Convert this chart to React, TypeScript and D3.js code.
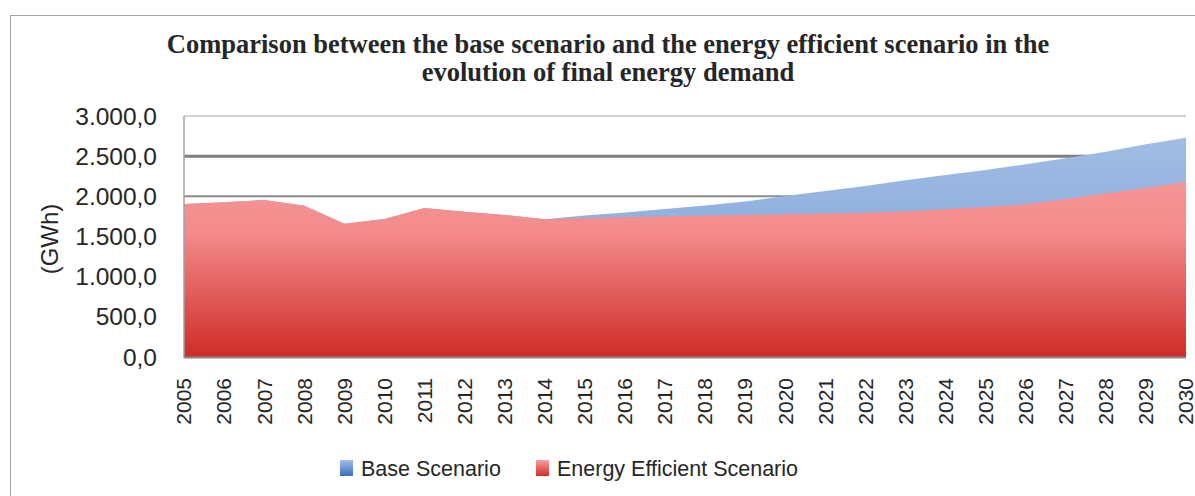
import React from "react";
import * as d3 from "d3";

const years: string[] = [
  "2005","2006","2007","2008","2009","2010","2011","2012","2013","2014",
  "2015","2016","2017","2018","2019","2020","2021","2022","2023","2024",
  "2025","2026","2027","2028","2029","2030",
];
const baseScenario: number[] = [
  1905, 1926, 1954, 1885, 1659, 1718, 1855, 1809, 1768, 1716,
  1761, 1799, 1842, 1886, 1936, 2004, 2066, 2129, 2200, 2266,
  2328, 2399, 2473, 2556, 2648, 2730,
];
const efficientScenario: number[] = [
  1905, 1926, 1954, 1883, 1659, 1718, 1855, 1809, 1768, 1714,
  1730, 1743, 1751, 1761, 1768, 1776, 1786, 1796, 1811, 1842,
  1867, 1901, 1967, 2038, 2108, 2182,
];
const yTicks: number[] = [0, 500, 1000, 1500, 2000, 2500, 3000];
const titleLines: string[] = [
  "Comparison between the base scenario and the energy efficient scenario in the",
  "evolution of final energy demand",
];
const yAxisTitle = "(GWh)";
const seriesNames: string[] = ["Base Scenario", "Energy Efficient Scenario"];

const W = 1195;
const H = 496;
const plot = { left: 184, right: 1186, top: 116, bottom: 357 };

const locale = d3.formatLocale({
  decimal: ",",
  thousands: ".",
  grouping: [3],
  currency: ["", ""],
});
const fmt = locale.format(",.1f");

export default function App() {
  const x = d3.scalePoint<string>().domain(years).range([plot.left, plot.right]);
  const y = d3.scaleLinear().domain([0, 3000]).range([plot.bottom, plot.top]);

  const area = (vals: number[]) =>
    d3
      .area<number>()
      .x((_, i) => x(years[i]) as number)
      .y0(y(0))
      .y1((d) => y(d))
      .curve(d3.curveLinear)(vals) || "";

  const sans = "'Liberation Sans', Arial, sans-serif";

  return (
    <svg
      width={W}
      height={H}
      style={{ position: "absolute", left: 0, top: 0, background: "#fff" }}
    >
      <defs>
        <linearGradient id="gBlue" x1="0" y1="0" x2="0" y2="1">
          <stop offset="0" stopColor="#A1BDE4" />
          <stop offset="0.45" stopColor="#8DAEDD" />
          <stop offset="1" stopColor="#3C71BD" />
        </linearGradient>
        <linearGradient id="gRed" x1="0" y1="0" x2="0" y2="1">
          <stop offset="0" stopColor="#F59696" />
          <stop offset="0.3" stopColor="#F38A8A" />
          <stop offset="1" stopColor="#CE2C27" />
        </linearGradient>
        <linearGradient id="gBlueLeg" x1="0" y1="0" x2="0" y2="1">
          <stop offset="0" stopColor="#A2BEE5" />
          <stop offset="1" stopColor="#3A6FBB" />
        </linearGradient>
        <linearGradient id="gRedLeg" x1="0" y1="0" x2="0" y2="1">
          <stop offset="0" stopColor="#F7A0A0" />
          <stop offset="1" stopColor="#CF2E29" />
        </linearGradient>
      </defs>

      {/* outer chart border */}
      <rect x={10.5} y={15.5} width={1300} height={600} fill="#fff" stroke="#A6A6A6" strokeWidth={1} />

      {/* title */}
      {titleLines.map((t, i) => (
        <text
          key={i}
          x={608}
          y={53 + i * 28}
          textAnchor="middle"
          fontFamily="'Liberation Serif', 'Times New Roman', serif"
          fontWeight="bold"
          fontSize={26.5}
          fill="#262626"
        >
          {t}
        </text>
      ))}

      {/* gridlines */}
      {yTicks.map((t) => {
        const stroke = t === 2500 ? "#7F7F7F" : t === 3000 ? "#A6A6A6" : "#8C8C8C";
        const sw = t === 2500 ? 3 : t === 3000 ? 1 : 2;
        return (
          <line
            key={t}
            x1={plot.left}
            x2={plot.right}
            y1={y(t)}
            y2={y(t)}
            stroke={stroke}
            strokeWidth={sw}
          />
        );
      })}

      {/* areas */}
      <path d={area(baseScenario)} fill="url(#gBlue)" />
      <path d={area(efficientScenario)} fill="url(#gRed)" />

      {/* plot left border & bottom axis */}
      <line x1={plot.left} x2={plot.left} y1={plot.top} y2={plot.bottom + 1} stroke="#A0A0A0" strokeWidth={1.5} />
      <line x1={plot.left} x2={plot.right} y1={plot.bottom + 0.5} y2={plot.bottom + 0.5} stroke="#8C8C8C" strokeWidth={2} />

      {/* y tick labels */}
      {yTicks.map((t) => (
        <text
          key={t}
          x={157}
          y={y(t)}
          dy="0.35em"
          textAnchor="end"
          fontFamily={sans}
          fontSize={24.5}
          fill="#262626"
        >
          {fmt(t)}
        </text>
      ))}

      {/* y axis title */}
      <text
        transform={`translate(58,239) rotate(-90)`}
        textAnchor="middle"
        fontFamily={sans}
        fontSize={24}
        fill="#262626"
      >
        {yAxisTitle}
      </text>

      {/* x tick labels */}
      {years.map((yr) => (
        <text
          key={yr}
          transform={`translate(${x(yr)},378) rotate(-90)`}
          dy="0.35em"
          textAnchor="end"
          fontFamily={sans}
          fontSize={21}
          fill="#262626"
        >
          {yr}
        </text>
      ))}

      {/* legend */}
      <rect x={340} y={460} width={13} height={16} fill="url(#gBlueLeg)" />
      <text x={361} y={476} fontFamily={sans} fontSize={21.5} fill="#262626">
        {seriesNames[0]}
      </text>
      <rect x={536} y={460} width={13} height={16} fill="url(#gRedLeg)" />
      <text x={557} y={476} fontFamily={sans} fontSize={21.5} fill="#262626">
        {seriesNames[1]}
      </text>
    </svg>
  );
}
